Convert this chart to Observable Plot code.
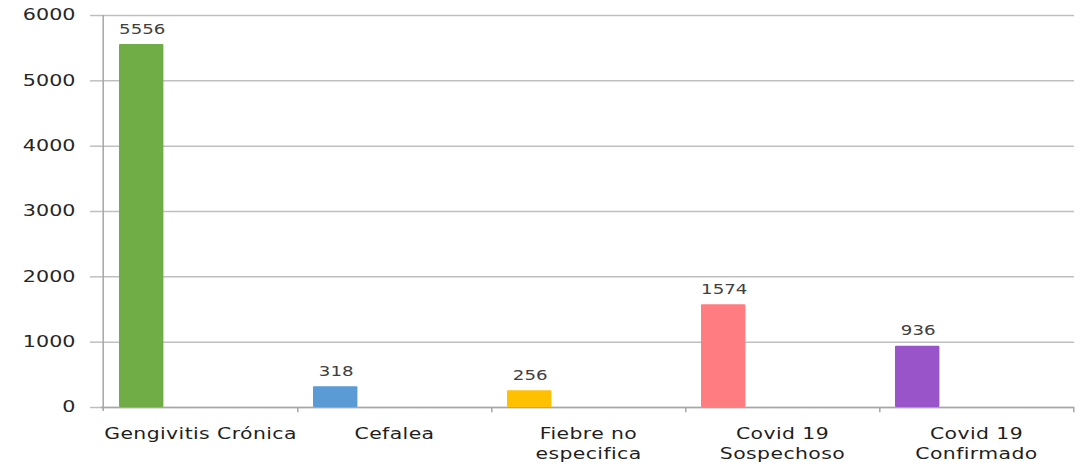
<!DOCTYPE html>
<html>
<head>
<meta charset="utf-8">
<script src="https://cdn.jsdelivr.net/npm/d3@7"></script>
<script src="https://cdn.jsdelivr.net/npm/@observablehq/plot@0.6"></script>
<style>
  html, body { margin: 0; padding: 0; background: #fff; }
  #chart svg { display: block; }
</style>
</head>
<body>
<div id="chart"></div>
<script>
const categories = ["Gengivitis Crónica", "Cefalea", "Fiebre no especifica", "Covid 19 Sospechoso", "Covid 19 Confirmado"];
const tickLabels = ["Gengivitis Crónica", "Cefalea", "Fiebre no\nespecifica", "Covid 19\nSospechoso", "Covid 19\nConfirmado"];
const values = [5556, 318, 256, 1574, 936];
const barColors = ["#70ad47", "#5b9bd5", "#ffc000", "#ff7c80", "#9954c9"];
const yTicks = [0, 1000, 2000, 3000, 4000, 5000, 6000];

const data = categories.map((c, i) => ({cat: c, value: values[i], color: barColors[i], label: tickLabels[i]}));

const W = 1089, H = 468;
const mL = 101, mR = 15, mT = 15, mB = 61;
const bw = (W - mL - mR) / categories.length;

const chart = Plot.plot({
  width: W,
  height: H,
  marginLeft: mL,
  marginRight: mR,
  marginTop: mT,
  marginBottom: mB,
  style: {fontFamily: "'DejaVu Sans', Verdana, sans-serif", fontSize: "15px", background: "#fff"},
  x: {domain: categories, padding: 0, axis: null, label: null},
  y: {domain: [0, 6000], axis: null, label: null},
  marks: [
    Plot.ruleY(yTicks, {stroke: "#bfbfbf", strokeWidth: 1.5}),
    Plot.axisY({ticks: yTicks, tickSize: 11, stroke: "#bfbfbf", strokeWidth: 1.5, tickFormat: () => "", label: null}),
    Plot.text(yTicks, {y: d => d, text: d => String(d), frameAnchor: "left", textAnchor: "end",
      dx: -26, fill: "#262626", fontSize: 15, ariaDescription: "ylabels"}),
    Plot.ruleX([categories[0]], {dx: -bw / 2, y1: -60, y2: 6000, stroke: "#a6a6a6", strokeWidth: 1.5}),
    Plot.ruleX(categories, {dx: bw / 2, y1: 0, y2: -80, stroke: "#a6a6a6", strokeWidth: 1.5}),
    Plot.ruleY([0], {stroke: "#a6a6a6", strokeWidth: 1.5}),
    Plot.barY(data, {x: "cat", y: "value", fill: "color", insetLeft: 16, insetRight: bw - 61, rx: 1}),
    Plot.text(data, {x: "cat", y: "value", text: d => String(d.value), dx: 39 - bw / 2, dy: -11,
      lineAnchor: "bottom", fill: "#404040", fontSize: 14, ariaDescription: "vlabels"}),
    Plot.text(data, {x: "cat", text: "label", frameAnchor: "bottom", lineAnchor: "top", dy: 18,
      lineHeight: 1.3, fill: "#1f1f1f", fontSize: 15, ariaDescription: "xlabels"})
  ]
});
const s = d3.select(chart);
function stretch(sel, k) {
  sel.attr("transform", function () { return (this.getAttribute("transform") || "") + ` scale(${k},1)`; });
}
stretch(s.selectAll("g[aria-description='ylabels'] text"), 1.38);
stretch(s.selectAll("g[aria-description='vlabels'] text"), 1.3);
stretch(s.selectAll("g[aria-description='xlabels'] text"), 1.36);
s.selectAll("g[aria-description='xlabels'] text").style("letter-spacing", "0.3px");
document.getElementById("chart").append(chart);
</script>
</body>
</html>
